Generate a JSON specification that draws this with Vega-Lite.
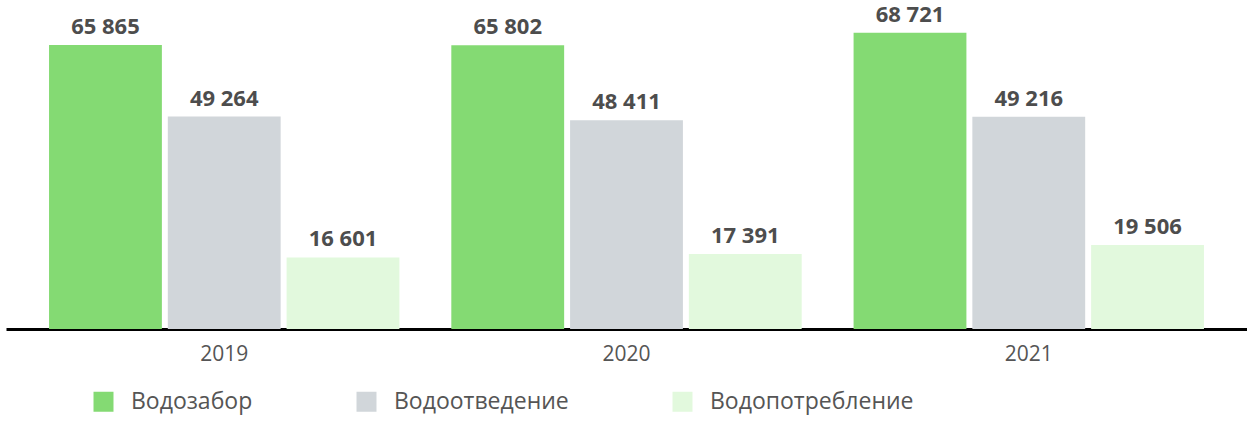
{
  "$schema": "https://vega.github.io/schema/vega-lite/v6.json",
  "width": 1241,
  "height": 329,
  "autosize": {"type": "none"},
  "padding": {"left": 6, "top": 0, "right": 0, "bottom": 98},
  "background": "#ffffff",
  "data": {
    "values": [
      {"year": "2019", "series": "Водозабор", "value": 65865},
      {"year": "2019", "series": "Водоотведение", "value": 49264},
      {"year": "2019", "series": "Водопотребление", "value": 16601},
      {"year": "2020", "series": "Водозабор", "value": 65802},
      {"year": "2020", "series": "Водоотведение", "value": 48411},
      {"year": "2020", "series": "Водопотребление", "value": 17391},
      {"year": "2021", "series": "Водозабор", "value": 68721},
      {"year": "2021", "series": "Водоотведение", "value": 49216},
      {"year": "2021", "series": "Водопотребление", "value": 19506}
    ]
  },
  "transform": [
    {"calculate": "replace(format(datum.value, ','), ',', ' ')", "as": "label"}
  ],
  "encoding": {
    "x": {
      "field": "year",
      "type": "nominal",
      "title": null,
      "scale": {"paddingInner": 0.129, "paddingOuter": 0.107},
      "axis": {
        "domainColor": "#000000",
        "domainWidth": 3,
        "ticks": false,
        "labelAngle": 0,
        "labelFont": "Open Sans",
        "labelFontSize": 21,
        "labelColor": "#555555",
        "labelPadding": 14
      }
    },
    "xOffset": {
      "field": "series",
      "type": "nominal",
      "scale": {"paddingInner": 0.05, "domain": ["Водозабор", "Водоотведение", "Водопотребление"]}
    },
    "y": {
      "field": "value",
      "type": "quantitative",
      "scale": {"domain": [0, 76300], "nice": false},
      "axis": null
    }
  },
  "layer": [
    {
      "mark": {"type": "bar"},
      "encoding": {
        "color": {
          "field": "series",
          "type": "nominal",
          "scale": {
            "domain": ["Водозабор", "Водоотведение", "Водопотребление"],
            "range": ["#84DA73", "#D1D6DA", "#E2F9DD"]
          },
          "legend": {
            "title": null,
            "orient": "none",
            "direction": "horizontal",
            "legendX": 86,
            "legendY": 390,
            "symbolType": "square",
            "symbolSize": 400,
            "symbolStrokeWidth": 0,
            "symbolOpacity": 1,
            "labelFont": "Open Sans",
            "labelFontSize": 23,
            "labelColor": "#555555",
            "labelOffset": 16,
            "labelLimit": 400,
            "columnPadding": 102
          }
        }
      }
    },
    {
      "mark": {
        "type": "text",
        "font": "Open Sans",
        "fontSize": 22,
        "fontWeight": "bold",
        "color": "#4d4d4d",
        "baseline": "alphabetic",
        "dy": -11
      },
      "encoding": {
        "text": {"field": "label", "type": "nominal"}
      }
    }
  ],
  "config": {
    "view": {"stroke": null}
  }
}
